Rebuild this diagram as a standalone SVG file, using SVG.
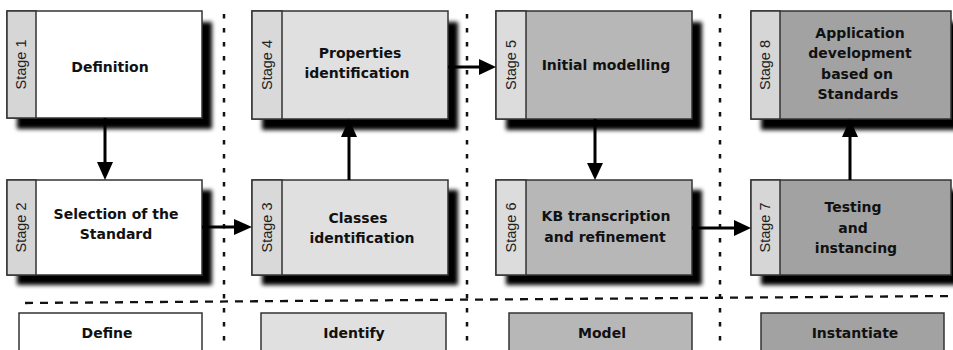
<svg xmlns="http://www.w3.org/2000/svg" width="953" height="350" viewBox="0 0 953 350">
<style>
.box{stroke:#333;stroke-width:1.5}
.strip{stroke:#333;stroke-width:1.5}
.shadow{fill:#000;filter:url(#blur)}
.t{font-family:"DejaVu Sans","Liberation Sans",sans-serif;font-weight:bold;font-size:14px;fill:#111;text-anchor:middle}
.s{font-family:"Liberation Sans",Arial,sans-serif;font-size:14.5px;fill:#222;text-anchor:middle}
.c1{fill:#ffffff}.c2{fill:#e0e0e0}.c3{fill:#b7b7b7}.c4{fill:#a2a2a2}
.st1{fill:#d6d6d6}.st2{fill:#d9d9d9}.st3{fill:#dcdcdc}.st4{fill:#d6d6d6}
.vdot{stroke:#111;stroke-width:2.5;stroke-dasharray:4.5 9.5;fill:none}
.hdash{stroke:#111;stroke-width:2.3;stroke-dasharray:8 7;fill:none}
.line{stroke:#000;stroke-width:3;fill:none}
.head{fill:#000}
</style>
<defs>
<filter id="blur" x="-10%" y="-10%" width="120%" height="130%"><feGaussianBlur stdDeviation="2"/></filter>
</defs>
<rect width="953" height="350" fill="#fff"/>

<g id="separators">
<line class="vdot" x1="224" y1="14" x2="224" y2="348"/>
<line class="vdot" x1="467" y1="14" x2="467" y2="348"/>
<line class="vdot" x1="720" y1="14" x2="720" y2="348"/>
<line class="hdash" x1="25" y1="303" x2="953" y2="296"/>
</g>

<g id="stage1">
<rect class="shadow" x="17" y="22" width="195" height="107"/>
<rect class="box c1" x="7" y="11" width="195" height="107"/>
<rect class="strip st1" x="7" y="11" width="29" height="107"/>
<text class="s" transform="translate(26,64.5) rotate(-90)">Stage 1</text>
<text class="t" x="110" y="72">Definition</text>
</g>

<g id="stage2">
<rect class="shadow" x="17" y="190" width="195" height="95"/>
<rect class="box c1" x="7" y="180" width="195" height="95"/>
<rect class="strip st1" x="7" y="180" width="29" height="95"/>
<text class="s" transform="translate(26,227.5) rotate(-90)">Stage 2</text>
<text class="t" x="116" y="219">Selection of the</text>
<text class="t" x="116" y="239">Standard</text>
</g>

<g id="stage4">
<rect class="shadow" x="262" y="22" width="196" height="108"/>
<rect class="box c2" x="252" y="11" width="196" height="108"/>
<rect class="strip st2" x="252" y="11" width="30" height="108"/>
<text class="s" transform="translate(272,65) rotate(-90)">Stage 4</text>
<text class="t" x="360" y="58">Properties</text>
<text class="t" x="357" y="78">identification</text>
</g>

<g id="stage3">
<rect class="shadow" x="262" y="190" width="196" height="95"/>
<rect class="box c2" x="252" y="180" width="196" height="95"/>
<rect class="strip st2" x="252" y="180" width="30" height="95"/>
<text class="s" transform="translate(272,227.5) rotate(-90)">Stage 3</text>
<text class="t" x="358" y="223">Classes</text>
<text class="t" x="362" y="243">identification</text>
</g>

<g id="stage5">
<rect class="shadow" x="506" y="22" width="196" height="108"/>
<rect class="box c3" x="496" y="11" width="196" height="108"/>
<rect class="strip st3" x="496" y="11" width="30" height="108"/>
<text class="s" transform="translate(516,65) rotate(-90)">Stage 5</text>
<text class="t" x="606" y="70">Initial modelling</text>
</g>

<g id="stage6">
<rect class="shadow" x="506" y="190" width="196" height="95"/>
<rect class="box c3" x="496" y="180" width="196" height="95"/>
<rect class="strip st3" x="496" y="180" width="30" height="95"/>
<text class="s" transform="translate(516,227.5) rotate(-90)">Stage 6</text>
<text class="t" x="606" y="221">KB transcription</text>
<text class="t" x="605" y="242">and refinement</text>
</g>

<g id="stage8">
<rect class="shadow" x="761" y="22" width="200" height="108"/>
<rect class="box c4" x="751" y="11" width="200" height="108"/>
<rect class="strip st4" x="751" y="11" width="29" height="108"/>
<text class="s" transform="translate(770,65) rotate(-90)">Stage 8</text>
<text class="t" x="860" y="38">Application</text>
<text class="t" x="860" y="58">development</text>
<text class="t" x="857" y="79">based on</text>
<text class="t" x="858" y="99">Standards</text>
</g>

<g id="stage7">
<rect class="shadow" x="761" y="190" width="200" height="95"/>
<rect class="box c4" x="751" y="180" width="200" height="95"/>
<rect class="strip st4" x="751" y="180" width="29" height="95"/>
<text class="s" transform="translate(770,227.5) rotate(-90)">Stage 7</text>
<text class="t" x="853" y="212">Testing</text>
<text class="t" x="853" y="233">and</text>
<text class="t" x="856" y="253">instancing</text>
</g>

<g id="phase-define">
<rect class="box c1" x="19" y="313" width="183" height="45"/>
<text class="t" x="107" y="338">Define</text>
</g>
<g id="phase-identify">
<rect class="box c2" x="261" y="313" width="185" height="45"/>
<text class="t" x="354" y="338">Identify</text>
</g>
<g id="phase-model">
<rect class="box c3" x="509" y="313" width="183" height="45"/>
<text class="t" x="602" y="338">Model</text>
</g>
<g id="phase-instantiate">
<rect class="box c4" x="761" y="313" width="183" height="45"/>
<text class="t" x="855" y="338">Instantiate</text>
</g>

<g id="connectors">
<line class="line" x1="105" y1="118" x2="105" y2="166"/>
<polygon class="head" points="97,162 113,162 105,180"/>
<line class="line" x1="202" y1="227" x2="238" y2="227"/>
<polygon class="head" points="234,219 234,235 252,227"/>
<line class="line" x1="349" y1="180" x2="349" y2="133"/>
<polygon class="head" points="341,137 357,137 349,119"/>
<line class="line" x1="448" y1="67" x2="483" y2="67"/>
<polygon class="head" points="479,59 479,75 496,67"/>
<line class="line" x1="595" y1="119" x2="595" y2="167"/>
<polygon class="head" points="587,163 603,163 595,180"/>
<line class="line" x1="692" y1="228" x2="738" y2="228"/>
<polygon class="head" points="734,220 734,236 751,228"/>
<line class="line" x1="850" y1="180" x2="850" y2="133"/>
<polygon class="head" points="842,137 858,137 850,119"/>
</g>
</svg>
